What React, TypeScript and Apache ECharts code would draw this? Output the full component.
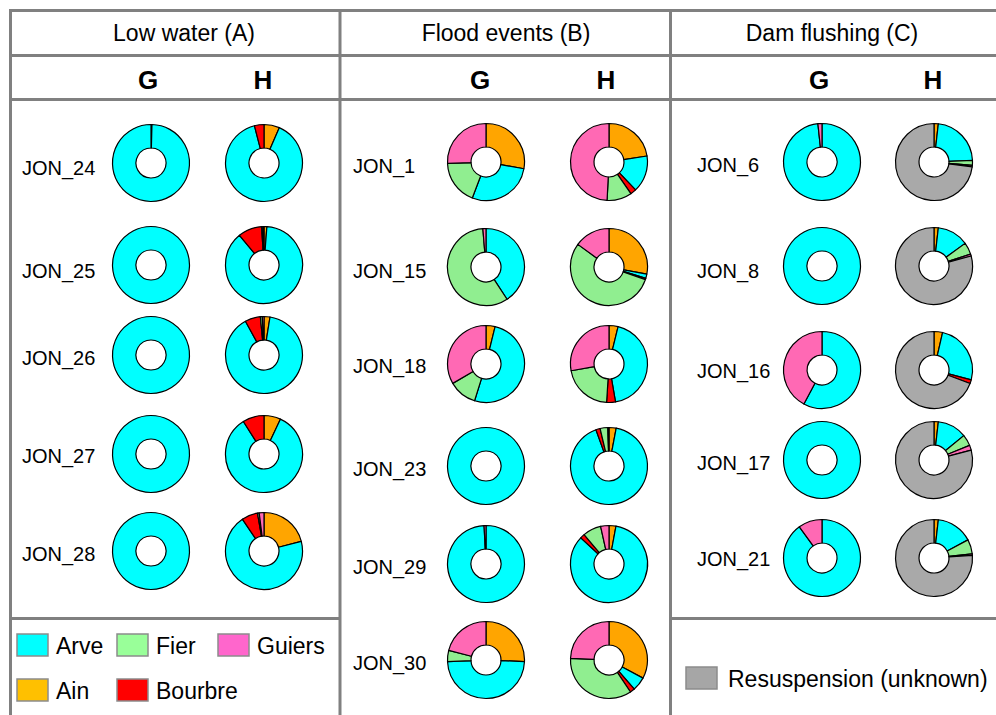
import React, { useEffect, useRef } from "react";
import * as echarts from "echarts";

// ---- Data ----
const sources = ["Ain", "Arve", "Bourbre", "Fier", "Guiers", "Resuspension (unknown)"];
const sourceColors = ["#FFA500", "#00FFFF", "#FF0000", "#90EE90", "#FF69B4", "#A9A9A9"];

const panelTitles = ["Low water (A)", "Flood events (B)", "Dam flushing (C)"];
const sideLabels = ["G", "H"];

// Percent contributions, order: Ain, Arve, Bourbre, Fier, Guiers, Resuspension
const lowWaterSamples = ["JON_24", "JON_25", "JON_26", "JON_27", "JON_28"];
const lowWaterG = [
  [0.4, 99.6, 0, 0, 0, 0],
  [0, 100, 0, 0, 0, 0],
  [0, 100, 0, 0, 0, 0],
  [0, 100, 0, 0, 0, 0],
  [0, 100, 0, 0, 0, 0],
];
const lowWaterH = [
  [6.5, 89.5, 4, 0, 0, 0],
  [1.2, 87.8, 10, 0.5, 0.5, 0],
  [2.5, 89.5, 6.5, 0.8, 0.7, 0],
  [7, 84, 9, 0, 0, 0],
  [21, 69.5, 6.8, 0.7, 2, 0],
];

const floodSamples = ["JON_1", "JON_15", "JON_18", "JON_23", "JON_29", "JON_30"];
const floodG = [
  [27.8, 28, 0, 18.6, 25.6, 0],
  [0, 40.8, 0, 57.9, 1.3, 0],
  [3.8, 51, 0, 11.8, 33.4, 0],
  [0, 100, 0, 0, 0, 0],
  [0, 99.2, 0, 0, 0.8, 0],
  [25.7, 48.6, 0, 4.7, 21, 0],
];
const floodH = [
  [22.5, 15.4, 2.5, 10.4, 49.2, 0],
  [28, 1.7, 0.6, 54.7, 15, 0],
  [3.8, 43.5, 3.7, 21.2, 27.8, 0],
  [3, 91.5, 1.8, 3.2, 0.5, 0],
  [2.9, 84, 1.9, 7.7, 3.5, 0],
  [32.8, 5.8, 2, 35.1, 24.3, 0],
];

const damSamples = ["JON_6", "JON_8", "JON_16", "JON_17", "JON_21"];
const damG = [
  [0, 98.3, 0, 0, 1.7, 0],
  [0, 100, 0, 0, 0, 0],
  [0, 57.8, 0, 0, 42.2, 0],
  [0, 100, 0, 0, 0, 0],
  [0, 90, 0, 0, 10, 0],
];
const damH = [
  [1.8, 22.5, 0, 2.1, 0.6, 73],
  [1.8, 13.2, 0, 5, 0.8, 79.2],
  [3.6, 25.5, 1.6, 0, 0, 69.3],
  [1.8, 12.3, 0, 4.7, 2.1, 79.1],
  [1.8, 15.4, 0, 6.1, 0.6, 76.1],
];

const legendA = [
  { name: "Arve", color: "#00FFFF" },
  { name: "Fier", color: "#99FF99" },
  { name: "Guiers", color: "#FF66CC" },
  { name: "Ain", color: "#FFC000" },
  { name: "Bourbre", color: "#FF0000" },
];
const legendC = [{ name: "Resuspension (unknown)", color: "#A6A6A6" }];

// ---- Layout (positions only) ----
const FONT = "Liberation Sans, Arial, sans-serif";
const GRID = "#808080";

const panels = [
  {
    samples: lowWaterSamples, g: lowWaterG, h: lowWaterH,
    titleX: 184, gx: 151, hx: 264, labelX: 22, gLabelX: 148, hLabelX: 263,
    cy: [163, 265, 355, 454, 551], ly: [168, 271, 358, 456, 554],
  },
  {
    samples: floodSamples, g: floodG, h: floodH,
    titleX: 506, gx: 486, hx: 609, labelX: 353, gLabelX: 480, hLabelX: 606,
    cy: [162, 267, 364, 466, 564, 660], ly: [166, 271, 366, 469, 567, 663],
  },
  {
    samples: damSamples, g: damG, h: damH,
    titleX: 832, gx: 822, hx: 934, labelX: 697, gLabelX: 819, hLabelX: 933,
    cy: [162, 266, 370, 460, 558], ly: [165, 271, 371, 463, 559],
  },
];

function pieSeries(values: number[], cx: number, cy: number) {
  const data = values
    .map((v, i) => ({ value: v, name: sources[i], itemStyle: { color: sourceColors[i] } }))
    .filter((d) => d.value > 0);
  return {
    type: "pie",
    center: [cx, cy],
    radius: [15, 38.5],
    startAngle: 90,
    clockwise: true,
    silent: true,
    avoidLabelOverlap: false,
    label: { show: false },
    labelLine: { show: false },
    emphasis: { disabled: true },
    itemStyle: { borderColor: "#000", borderWidth: 1.2 },
    data,
  };
}

function hline(x1: number, x2: number, y: number) {
  return { type: "line", shape: { x1, y1: y, x2, y2: y }, style: { stroke: GRID, lineWidth: 3 }, silent: true };
}
function vline(x: number, y1: number, y2: number) {
  return { type: "line", shape: { x1: x, y1, x2: x, y2 }, style: { stroke: GRID, lineWidth: 3 }, silent: true };
}
function txt(text: string, x: number, y: number, size: number, align: string, bold = false) {
  return {
    type: "text",
    x, y,
    silent: true,
    style: {
      text, fill: "#000", font: `${bold ? "bold " : ""}${size}px ${FONT}`,
      align, verticalAlign: "middle",
    },
  };
}
function swatch(x: number, y: number, color: string) {
  return {
    type: "rect",
    shape: { x, y, width: 31, height: 22 },
    style: { fill: color, stroke: "#8C8C8C", lineWidth: 1.5 },
    silent: true,
  };
}

export default function App() {
  const ref = useRef<HTMLDivElement>(null);
  useEffect(() => {
    if (!ref.current) return;
    const chart = echarts.init(ref.current, null, { renderer: "svg" });

    const series: any[] = [];
    const graphic: any[] = [];

    // grid lines
    graphic.push(hline(9, 997, 10.5));
    graphic.push(hline(9, 997, 55.5));
    graphic.push(hline(9, 997, 99.5));
    graphic.push(vline(10.5, 9, 715));
    graphic.push(vline(340, 9, 715));
    graphic.push(vline(670.5, 9, 715));
    graphic.push(hline(9, 341, 618.5));
    graphic.push(hline(670, 997, 618.5));

    panels.forEach((p, pi) => {
      graphic.push(txt(panelTitles[pi], p.titleX, 33, 23, "center"));
      graphic.push(txt(sideLabels[0], p.gLabelX, 80, 26, "center", true));
      graphic.push(txt(sideLabels[1], p.hLabelX, 80, 26, "center", true));
      p.samples.forEach((s, si) => {
        graphic.push(txt(s, p.labelX, p.ly[si], 20, "left"));
        series.push(pieSeries(p.g[si], p.gx, p.cy[si]));
        series.push(pieSeries(p.h[si], p.hx, p.cy[si]));
      });
    });

    // legend A
    const legPos = [
      [17, 634], [117, 634], [218, 634], [17, 679], [117, 679],
    ];
    legendA.forEach((l, i) => {
      const [x, y] = legPos[i];
      graphic.push(swatch(x, y, l.color));
      graphic.push(txt(l.name, x + 39, y + 12, 23, "left"));
    });
    // legend C
    legendC.forEach((l) => {
      graphic.push(swatch(686, 667, l.color));
      graphic.push(txt(l.name, 728, 679, 23, "left"));
    });

    chart.setOption({
      animation: false,
      backgroundColor: "#fff",
      series,
      graphic: { elements: graphic },
    });
    return () => chart.dispose();
  }, []);

  return (
    <div
      ref={ref}
      style={{ position: "absolute", left: 0, top: 0, width: 996, height: 715 }}
    />
  );
}
